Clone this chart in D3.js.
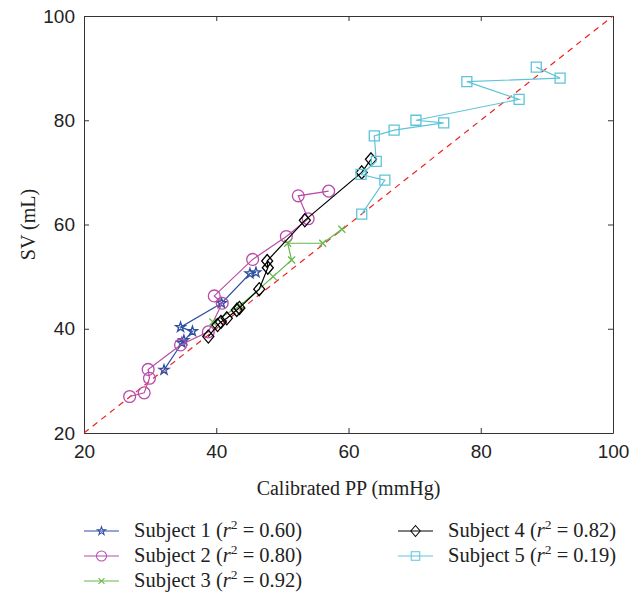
<!DOCTYPE html>
<html>
<head>
<meta charset="utf-8">
<script src="https://cdn.jsdelivr.net/npm/d3@7"></script>
<style>
  body { margin: 0; background: #fff; }
  svg { font-family: "Liberation Serif", "Times New Roman", serif; }
  .axis text { font-size: 19px; fill: #222; }
  .axis path, .axis line { stroke: #333; }
</style>
</head>
<body>
<div class="chart"></div>
<script>
const width = 644;
const height = 596;
const margin = { top: 16, right: 31, bottom: 163, left: 84 };
const innerWidth = width - margin.left - margin.right;
const innerHeight = height - margin.top - margin.bottom;

// values: [Calibrated PP, SV]
const subject1 = [[32.1, 32.1], [35.1, 37.8], [34.8, 37.3], [36.4, 39.5], [34.6, 40.3], [40.8, 44.9], [45.1, 50.6], [46.0, 50.8]];
const subject2 = [[26.9, 27.0], [29.1, 27.7], [29.9, 30.5], [29.7, 32.2], [34.6, 36.9], [38.8, 39.4], [40.9, 44.9], [39.7, 46.3], [45.5, 53.3], [50.6, 57.7], [53.9, 61.1], [52.4, 65.5], [57.0, 66.4]];
const subject3 = [[39.5, 41.3], [43.6, 44.4], [48.6, 50.0], [51.4, 53.2], [50.8, 56.4], [56.1, 56.4], [59.0, 59.1]];
const subject4 = [[38.8, 38.5], [40.2, 40.7], [40.7, 41.3], [41.6, 42.0], [43.1, 43.6], [43.5, 44.0], [46.5, 47.6], [47.8, 51.7], [47.7, 53.0], [53.4, 60.8], [62.0, 70.0], [63.4, 72.5]];
const subject5 = [[62.0, 62.0], [65.5, 68.5], [61.9, 69.6], [64.2, 72.1], [63.9, 77.0], [66.9, 78.1], [74.4, 79.5], [70.2, 80.0], [85.8, 84.0], [77.9, 87.4], [92.0, 88.1], [88.4, 90.2]];

const names = ["Subject 1", "Subject 2", "Subject 3", "Subject 4", "Subject 5"];
const r2 = ["0.60", "0.80", "0.92", "0.82", "0.19"];
const ticks = [20, 40, 60, 80, 100];

const colors = ["#2f4fa3", "#b84ba6", "#66b84a", "#000000", "#5ec4d8"];
const markers = ["star", "circle", "cross", "diamond", "square"];
const series = [subject1, subject2, subject3, subject4, subject5];

const x = d3.scaleLinear().domain([20, 100]).range([0, innerWidth]);
const y = d3.scaleLinear().domain([20, 100]).range([innerHeight, 0]);

const svg = d3.select(".chart").append("svg")
  .attr("width", width)
  .attr("height", height);

const g = svg.append("g")
  .attr("transform", `translate(${margin.left},${margin.top})`);

// box with inward ticks on all sides
g.append("g").attr("class", "axis")
  .attr("transform", `translate(0,${innerHeight})`)
  .call(d3.axisBottom(x).tickValues(ticks).tickSizeInner(-5).tickSizeOuter(0).tickPadding(12));
g.append("g").attr("class", "axis")
  .call(d3.axisLeft(y).tickValues(ticks).tickSizeInner(-5).tickSizeOuter(0).tickPadding(9));
g.append("g").attr("class", "axis")
  .call(d3.axisTop(x).tickValues(ticks).tickSizeInner(-5).tickSizeOuter(0))
  .selectAll("text").remove();
g.append("g").attr("class", "axis")
  .attr("transform", `translate(${innerWidth},0)`)
  .call(d3.axisRight(y).tickValues(ticks).tickSizeInner(-5).tickSizeOuter(0))
  .selectAll("text").remove();

// identity line
g.append("line")
  .attr("x1", x(20)).attr("y1", y(20))
  .attr("x2", x(100)).attr("y2", y(100))
  .attr("stroke", "#ee2222")
  .attr("stroke-width", 1.2)
  .attr("stroke-dasharray", "6,5");

const symbolPath = (type) => {
  switch (type) {
    case "star": return d3.symbol(d3.symbolStar, 30)();
    case "circle": return d3.symbol(d3.symbolCircle, 110)();
    case "cross": return "M-3.5,-3.5L3.5,3.5M-3.5,3.5L3.5,-3.5";
    case "diamond": return "M0,-6.5L5.5,0L0,6.5L-5.5,0Z";
    case "square": return "M-5,-5H5V5H-5Z";
  }
};

const line = d3.line().x(d => x(d[0])).y(d => y(d[1]));

series.forEach((data, i) => {
  const s = g.append("g");
  s.append("path")
    .attr("d", line(data))
    .attr("fill", "none")
    .attr("stroke", colors[i])
    .attr("stroke-width", 1.2);
  s.selectAll(".pt")
    .data(data)
    .enter()
    .append("path")
    .attr("class", "pt")
    .attr("transform", d => `translate(${x(d[0])},${y(d[1])})`)
    .attr("d", symbolPath(markers[i]))
    .attr("fill", "none")
    .attr("stroke", colors[i])
    .attr("stroke-width", 1.3);
});

// axis labels
svg.append("text")
  .attr("x", margin.left + innerWidth / 2)
  .attr("y", 495)
  .attr("text-anchor", "middle")
  .style("font-size", "20px")
  .style("fill", "#222")
  .text("Calibrated PP (mmHg)");

svg.append("text")
  .attr("transform", `translate(35,${margin.top + innerHeight / 2}) rotate(-90)`)
  .attr("text-anchor", "middle")
  .style("font-size", "20px")
  .style("fill", "#222")
  .text("SV (mL)");

// legend
const legendPos = [[84, 531], [84, 556], [84, 581], [398, 531], [398, 556]];
const legend = svg.selectAll(".legend")
  .data(names)
  .enter()
  .append("g")
  .attr("class", "legend")
  .attr("transform", (d, i) => `translate(${legendPos[i][0]},${legendPos[i][1]})`);

legend.append("line")
  .attr("x1", 0).attr("x2", 35)
  .attr("stroke", (d, i) => colors[i])
  .attr("stroke-width", 1.2);

legend.append("path")
  .attr("transform", "translate(17.5,0) scale(0.85)")
  .attr("d", (d, i) => symbolPath(markers[i]))
  .attr("fill", "none")
  .attr("stroke", (d, i) => colors[i])
  .attr("stroke-width", 1.2);

const lt = legend.append("text")
  .attr("x", 50)
  .attr("y", 6)
  .style("font-size", "20.5px")
  .style("fill", "#222");
lt.append("tspan").text(d => d + " (");
lt.append("tspan").style("font-style", "italic").text("r");
lt.append("tspan").attr("dy", -8).style("font-size", "13.5px").text("2");
lt.append("tspan").attr("dy", 8).text((d, i) => " = " + r2[i] + ")");
</script>
</body>
</html>
